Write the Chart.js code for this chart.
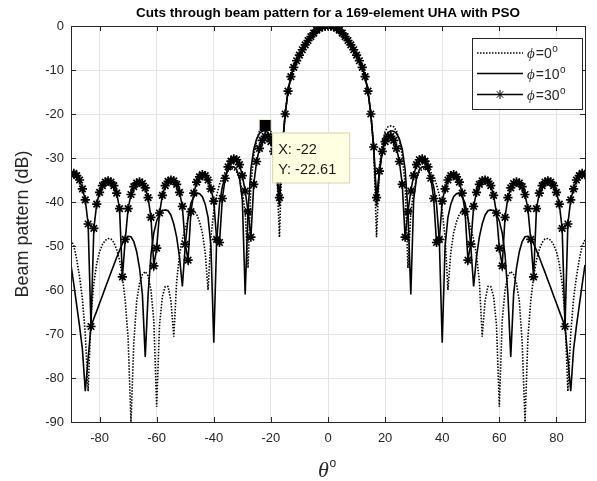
<!DOCTYPE html>
<html lang="en">
<head>
<meta charset="UTF-8">
<title>Cuts through beam pattern</title>
<script src="https://cdn.jsdelivr.net/npm/chart.js"></script>
<style>
  body { margin: 0; background: #fff; }
  canvas { display: block; }
</style>
</head>
<body>
<canvas id="beamChart" width="597" height="481"></canvas>
<script>
// angle (deg), 1 degree steps
const theta = [
  -90,-89,-88,-87,-86,-85,-84,-83,-82,-81,-80,-79,-78,-77,-76,-75,-74,-73,-72,-71,
  -70,-69,-68,-67,-66,-65,-64,-63,-62,-61,-60,-59,-58,-57,-56,-55,-54,-53,-52,-51,
  -50,-49,-48,-47,-46,-45,-44,-43,-42,-41,-40,-39,-38,-37,-36,-35,-34,-33,-32,-31,
  -30,-29,-28,-27,-26,-25,-24,-23,-22,-21,-20,-19,-18,-17,-16,-15,-14,-13,-12,-11,
  -10,-9,-8,-7,-6,-5,-4,-3,-2,-1,0,1,2,3,4,5,6,7,8,9,10,
  11,12,13,14,15,16,17,18,19,20,21,22,23,24,25,26,27,28,29,30,
  31,32,33,34,35,36,37,38,39,40,41,42,43,44,45,46,47,48,49,50,
  51,52,53,54,55,56,57,58,59,60,61,62,63,64,65,66,67,68,69,70,
  71,72,73,74,75,76,77,78,79,80,81,82,83,84,85,86,87,88,89,90
];

// phi = 0 deg (dotted)
const phi0 = [
  -48.6,-50,-53,-57,-62,-70,-83,-66,-58.5,-54,
  -51.3,-49.7,-48.7,-48.3,-48.4,-49.2,-50.8,-53.2,-57,-62.5,
  -71,-90,-72,-62.5,-58.5,-56.5,-55.8,-56.8,-60,-67,
  -86.5,-68,-61.5,-59.2,-59.2,-62.5,-70.6,-58,-52,-48.5,
  -46,-43.8,-42.3,-42,-42.8,-44.5,-47,-51.5,-60,-48,
  -42,-38.5,-36,-34.3,-33.2,-32.6,-32.4,-32.5,-33.2,-34.8,
  -37.5,-42.5,-55,-36,-29.5,-26,-23.9,-22.9,-22.61,-22.9,
  -24,-26.5,-32,-48,-28,-20,-14.8,-11.5,-9.4,-7.9,
  -6.6,-5.4,-4.3,-3.3,-2.4,-1.6,-0.95,-0.5,-0.22,-0.06,
  0,
  -0.06,-0.22,-0.5,-0.95,-1.6,-2.4,-3.3,-4.3,-5.4,-6.6,
  -7.9,-9.4,-11.5,-14.8,-20,-28,-48,-32,-26.5,-24,
  -22.9,-22.7,-22.9,-23.9,-26,-29.5,-36,-55,-42.5,-37.5,
  -34.8,-33.2,-32.5,-32.4,-32.6,-33.2,-34.3,-36,-38.5,-42,
  -48,-60,-51.5,-47,-44.5,-42.8,-42,-42.3,-43.8,-46,
  -48.5,-52,-58,-70.6,-62.5,-59.2,-59.2,-61.5,-68,-86.5,
  -67,-60,-56.8,-55.8,-56.5,-58.5,-62.5,-72,-90,-71,
  -62.5,-57,-53.2,-50.8,-49.2,-48.4,-48.3,-48.7,-49.7,-51.3,
  -54,-58.5,-66,-83,-70,-62,-57,-53,-50,-48.6
];

// phi = 10 deg (solid)
const phi10 = [
  -54.3,-58.8,-63.5,-68.2,-73.5,-83,-75.5,-68.3,-66.5,-64.8,
  -63,-61.3,-59.5,-57.8,-56,-54.3,-52.6,-51,-49.5,-48.4,
  -47.8,-47.9,-49,-51.3,-55,-61,-75.2,-61,-52,-47,
  -44.3,-42.8,-42,-41.8,-42,-43,-45,-48,-52.5,-59.2,
  -50,-43.5,-40.3,-38.8,-38.1,-38.1,-38.8,-40.5,-43.5,-50,
  -72,-49,-40.5,-36.5,-34.2,-32.8,-32.1,-32,-32.6,-34.5,
  -39.5,-61,-42,-32.5,-28,-25.7,-24.4,-23.9,-23.8,-24.2,
  -25.5,-28.5,-33.5,-41,-27.5,-20,-14.8,-11.5,-9.4,-7.9,
  -6.6,-5.4,-4.3,-3.3,-2.4,-1.6,-0.95,-0.5,-0.22,-0.06,
  0,
  -0.06,-0.22,-0.5,-0.95,-1.6,-2.4,-3.3,-4.3,-5.4,-6.6,
  -7.9,-9.4,-11.5,-14.8,-20,-27.5,-41,-33.5,-28.5,-25.5,
  -24.2,-23.8,-23.9,-24.4,-25.7,-28,-32.5,-42,-61,-39.5,
  -34.5,-32.6,-32,-32.1,-32.8,-34.2,-36.5,-40.5,-49,-72,
  -50,-43.5,-40.5,-38.8,-38.1,-38.1,-38.8,-40.3,-43.5,-50,
  -59.2,-52.5,-48,-45,-43,-42,-41.8,-42,-42.8,-44.3,
  -47,-52,-61,-75.2,-61,-55,-51.3,-49,-47.9,-47.8,
  -48.4,-49.5,-51,-52.6,-54.3,-56,-57.8,-59.5,-61.3,-63,
  -64.8,-66.5,-68.3,-75.5,-83,-73.5,-68.2,-63.5,-58.8,-54.3
];

// phi = 30 deg (solid with asterisks)
const phi30 = [
  -33.8,-33.5,-34,-35,-37,-39.5,-45,-68.3,-46,-40.5,
  -37.8,-36.3,-35.5,-35.2,-35.5,-36.3,-38,-41.5,-57,-48.5,
  -41.5,-38.3,-36.5,-35.7,-35.4,-35.8,-36.8,-39,-43.5,-54.5,
  -50.5,-42.5,-38.5,-36.3,-35.3,-35,-35.2,-36,-37.8,-41,
  -49.6,-53.2,-42.2,-38,-35.5,-34.3,-33.8,-34,-35,-37,
  -39.8,-48.5,-49.2,-39.2,-34.6,-32,-30.7,-30.2,-30.4,-31.5,
  -34,-37.5,-42.2,-48,-36,-30.8,-27.8,-26,-25.1,-25.1,
  -26.3,-28.5,-33,-39,-27.5,-20,-14.8,-11.5,-9.4,-7.9,
  -6.6,-5.4,-4.3,-3.3,-2.4,-1.6,-0.95,-0.5,-0.22,-0.06,
  0,
  -0.06,-0.22,-0.5,-0.95,-1.6,-2.4,-3.3,-4.3,-5.4,-6.6,
  -7.9,-9.4,-11.5,-14.8,-20,-27.5,-39,-33,-28.5,-26.3,
  -25.1,-25.1,-26,-27.8,-30.8,-36,-48,-42.2,-37.5,-34,
  -31.5,-30.4,-30.2,-30.7,-32,-34.6,-39.2,-49.2,-48.5,-39.8,
  -37,-35,-34,-33.8,-34.3,-35.5,-38,-42.2,-53.2,-49.6,
  -41,-37.8,-36,-35.2,-35,-35.3,-36.3,-38.5,-42.5,-50.5,
  -54.5,-43.5,-39,-36.8,-35.8,-35.4,-35.7,-36.5,-38.3,-41.5,
  -48.5,-57,-41.5,-38,-36.3,-35.5,-35.2,-35.5,-36.3,-37.8,
  -40.5,-46,-68.3,-45,-39.5,-37,-35,-34,-33.5,-33.8
];

// data tip
const tipX = [-22];
const tipY = [-22.61];

const xTicks = [-80, -60, -40, -20, 0, 20, 40, 60, 80];
const yTicks = [-90, -80, -70, -60, -50, -40, -30, -20, -10, 0];
const seriesNames = ['0', '10', '30'];

const axisColor = '#262626';
const sans = '"Liberation Sans", Arial, Helvetica, sans-serif';
const serif = '"Liberation Serif", "Times New Roman", serif';

const pts = ys => theta.map((t, i) => ({ x: t, y: ys[i] }));

// box, inward ticks, title, x label, legend, data tip text
const decorPlugin = {
  id: 'decor',
  afterDraw(chart) {
    const ctx = chart.ctx;
    const a = chart.chartArea;
    const xs = chart.scales.x, ys = chart.scales.y;
    ctx.save();

    // axes box + ticks
    ctx.strokeStyle = axisColor;
    ctx.lineWidth = 1;
    ctx.beginPath();
    xTicks.forEach(v => {
      const px = Math.round(xs.getPixelForValue(v)) + 0.5;
      ctx.moveTo(px, a.bottom); ctx.lineTo(px, a.bottom - 5);
      ctx.moveTo(px, a.top); ctx.lineTo(px, a.top + 5);
    });
    yTicks.forEach(v => {
      const py = Math.round(ys.getPixelForValue(v)) + 0.5;
      ctx.moveTo(a.left, py); ctx.lineTo(a.left + 5, py);
      ctx.moveTo(a.right, py); ctx.lineTo(a.right - 5, py);
    });
    ctx.stroke();
    ctx.strokeRect(Math.round(a.left) + 0.5, Math.round(a.top) + 0.5,
                   Math.round(a.right - a.left), Math.round(a.bottom - a.top));

    // title
    ctx.fillStyle = '#000';
    ctx.font = 'bold 13.5px ' + sans;
    ctx.textAlign = 'center';
    ctx.textBaseline = 'alphabetic';
    ctx.fillText('Cuts through beam pattern for a 169-element UHA with PSO', (a.left + a.right) / 2, 17);

    // x axis label: theta^o
    ctx.fillStyle = axisColor;
    ctx.textAlign = 'left';
    ctx.font = 'italic 22px ' + serif;
    ctx.fillText('θ', 318, 477);
    ctx.font = '12px ' + sans;
    ctx.fillText('o', 329.5, 467);

    // legend
    const bx = a.right - 113, by = a.top + 12, bw = 110, bh = 71;
    ctx.fillStyle = '#fff';
    ctx.fillRect(bx, by, bw, bh);
    ctx.strokeStyle = axisColor;
    ctx.strokeRect(bx + 0.5, by + 0.5, bw, bh);
    const rows = [15, 35.5, 56.5];
    chart.data.datasets.slice(0, 3).forEach((ds, i) => {
      const ry = by + rows[i];
      ctx.save();
      ctx.strokeStyle = '#000';
      ctx.lineWidth = ds.borderWidth;
      ctx.setLineDash(ds.borderDash || []);
      ctx.beginPath();
      ctx.moveTo(bx + 5, ry); ctx.lineTo(bx + 51, ry);
      ctx.stroke();
      ctx.restore();
      if (ds.pointRadius > 0) {
        ctx.strokeStyle = '#000';
        ctx.fillStyle = '#000';
        Chart.helpers.drawPoint(ctx, {
          pointStyle: ds.pointStyle, radius: ds.pointRadius,
          borderWidth: ds.pointBorderWidth, rotation: 0
        }, bx + 28, ry);
      }
      ctx.fillStyle = axisColor;
      let tx = bx + 55;
      ctx.font = 'italic 15px ' + serif;
      ctx.fillText('ϕ', tx, ry + 5);
      tx += ctx.measureText('ϕ').width + 1;
      ctx.font = '14px ' + sans;
      const s = '=' + seriesNames[i];
      ctx.fillText(s, tx, ry + 5);
      tx += ctx.measureText(s).width + 0.5;
      ctx.font = '10px ' + sans;
      ctx.fillText('o', tx, ry - 1);
    });

    // data tip box
    const tp = chart.getDatasetMeta(3).data[0];
    const tx0 = tp.x + 7, ty0 = tp.y + 7;
    ctx.fillStyle = '#ffffe1';
    ctx.fillRect(tx0, ty0, 77, 50);
    ctx.strokeStyle = '#d4d4b8';
    ctx.strokeRect(tx0 + 0.5, ty0 + 0.5, 77, 50);
    ctx.fillStyle = '#1a1a1a';
    ctx.font = '14.5px ' + sans;
    ctx.fillText('X: ' + tipX[0], tx0 + 6, ty0 + 22);
    ctx.fillText('Y: ' + tipY[0], tx0 + 6, ty0 + 42);
    ctx.restore();
  }
};

new Chart(document.getElementById('beamChart').getContext('2d'), {
  type: 'line',
  data: {
    datasets: [
      {
        label: 'phi=0', data: pts(phi0),
        borderColor: '#000', borderWidth: 1.6, borderDash: [1.5, 1.5],
        pointRadius: 0, fill: false, tension: 0
      },
      {
        label: 'phi=10', data: pts(phi10),
        borderColor: '#000', borderWidth: 1.6,
        pointRadius: 0, fill: false, tension: 0
      },
      {
        label: 'phi=30', data: pts(phi30),
        borderColor: '#000', borderWidth: 1.6,
        pointStyle: 'star', pointRadius: 4.6, pointBorderWidth: 1.7,
        pointBorderColor: '#000', pointBackgroundColor: '#000',
        fill: false, tension: 0
      },
      {
        label: 'tip', data: tipX.map((x, i) => ({ x: x, y: tipY[i] })),
        showLine: false, pointStyle: 'rect', pointRadius: 8.5,
        pointBackgroundColor: '#000', pointBorderColor: '#f5f0c8', pointBorderWidth: 1
      }
    ]
  },
  options: {
    responsive: false,
    animation: false,
    layout: { padding: { top: 26, right: 12, left: 0, bottom: 0 } },
    plugins: {
      legend: { display: false },
      title: { display: false },
      tooltip: { enabled: false }
    },
    scales: {
      x: {
        type: 'linear', min: -90, max: 90,
        afterFit: s => { s.height = 59; },
        afterBuildTicks: s => { s.ticks = xTicks.map(v => ({ value: v })); },
        grid: { color: '#e4e4e4', drawTicks: false },
        border: { display: false },
        ticks: { padding: 9, color: axisColor, font: { size: 13, family: sans }, maxRotation: 0 }
      },
      y: {
        min: -90, max: 0,
        afterFit: s => { s.width = 71; },
        afterBuildTicks: s => { s.ticks = yTicks.map(v => ({ value: v })); },
        grid: { color: '#e4e4e4', drawTicks: false },
        border: { display: false },
        ticks: { padding: 7, color: axisColor, font: { size: 13, family: sans } },
        title: {
          display: true, text: 'Beam pattern (dB)', color: axisColor,
          font: { size: 18, family: sans }, padding: { top: 12, bottom: 0 }
        }
      }
    }
  },
  plugins: [decorPlugin]
});
</script>
</body>
</html>
